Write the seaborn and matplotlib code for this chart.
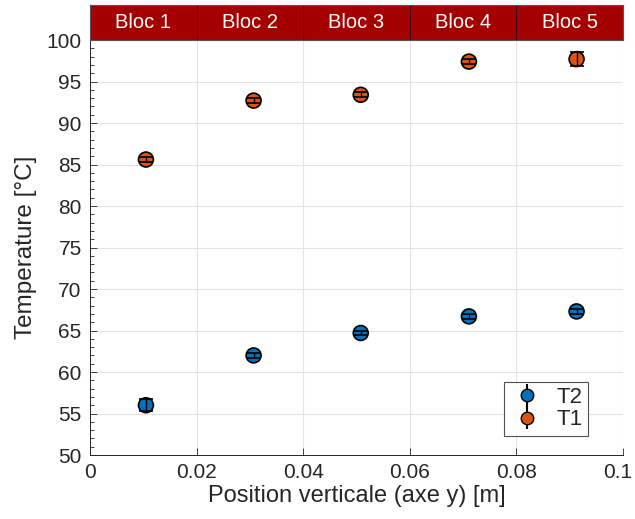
import numpy as np
import pandas as pd
import matplotlib
matplotlib.use("Agg")
import matplotlib.pyplot as plt
import matplotlib.transforms as mtransforms
import seaborn as sns

# Data
positions = [0.0105, 0.0307, 0.0508, 0.0711, 0.0913]
t1_values = [85.6, 92.7, 93.4, 97.4, 97.7]
t1_errors = [0.3, 0.3, 0.3, 0.3, 0.8]
t2_values = [56.0, 62.0, 64.7, 66.7, 67.3]
t2_errors = [0.7, 0.3, 0.3, 0.3, 0.3]
bloc_labels = ["Bloc 1", "Bloc 2", "Bloc 3", "Bloc 4", "Bloc 5"]
bloc_edges = [0.0, 0.02, 0.04, 0.06, 0.08, 0.1]

blue = "#0072BD"
orange = "#D95319"
dark = "#262626"

sns.set_style("ticks")
plt.rcParams["font.family"] = ["Liberation Sans", "DejaVu Sans"]
plt.rcParams["text.color"] = dark
plt.rcParams["axes.labelcolor"] = dark
plt.rcParams["xtick.color"] = dark
plt.rcParams["ytick.color"] = dark

df = pd.DataFrame({
    "x": positions * 2,
    "y": t2_values + t1_values,
    "err": t2_errors + t1_errors,
    "serie": ["T2"] * 5 + ["T1"] * 5,
})

fig = plt.figure(figsize=(6.35, 5.19), dpi=100)
ax = fig.add_axes([0.1417, 0.1233, 0.8393, 0.7996])

sns.scatterplot(data=df, x="x", y="y", hue="serie", palette={"T2": blue, "T1": orange},
                s=115, edgecolor="black", linewidth=1.2, ax=ax, zorder=3, legend=False)

for name in ["T2", "T1"]:
    sub = df[df["serie"] == name]
    ax.errorbar(sub["x"], sub["y"], yerr=sub["err"], fmt="none", ecolor="black",
                elinewidth=1.0, capsize=5, capthick=1.2, zorder=4)

# legend handles
for lab, col in [("T2", blue), ("T1", orange)]:
    ax.errorbar([], [], yerr=[], fmt="o", color=col, mec="black", ms=9, ecolor="black",
                capsize=3, label=lab)
leg = ax.legend(loc="lower right", bbox_to_anchor=(0.934, 0.046), borderaxespad=0,
                fontsize=16, frameon=True, fancybox=False, edgecolor=dark,
                handletextpad=0.5, borderpad=0.25, labelspacing=0.05, handlelength=1.6)
leg.get_frame().set_linewidth(0.8)

ax.set_xlim(0, 0.1)
ax.set_ylim(50, 100)
ax.set_xticks(np.arange(0, 0.101, 0.02))
ax.set_xticklabels(["0", "0.02", "0.04", "0.06", "0.08", "0.1"])
ax.set_yticks(np.arange(50, 101, 5))
ax.set_yticks(np.arange(50, 101, 1), minor=True)
ax.tick_params(axis="both", direction="in", labelsize=15, length=5, width=0.6, pad=6)
ax.tick_params(axis="y", which="minor", direction="in", length=3, width=0.6)
ax.grid(True, which="major", color="#e3e3e3", linewidth=0.8)
ax.set_axisbelow(True)
sns.despine(ax=ax)
for s in ["left", "bottom"]:
    ax.spines[s].set_color(dark)
    ax.spines[s].set_linewidth(0.7)
ax.set_xlabel("Position verticale (axe y) [m]", fontsize=17, labelpad=2)
ax.set_ylabel("Temperature [°C]", fontsize=17.5, labelpad=7)

# keep the last x tick label inside the figure
last = ax.get_xticklabels()[-1]
last.set_transform(last.get_transform() + mtransforms.ScaledTranslation(-4 / 72, 0, fig.dpi_scale_trans))

# header band with bloc names
band = fig.add_axes([0.1417, 0.9229, 0.8393, 0.0674])
band.set_xlim(0, 0.1)
band.set_ylim(0, 1)
for i, lab in enumerate(bloc_labels):
    band.axvspan(bloc_edges[i], bloc_edges[i + 1], color="#A50000", zorder=1)
    band.text((bloc_edges[i] + bloc_edges[i + 1]) / 2, 0.5, lab, color="white",
              ha="center", va="center", fontsize=14.5)
for e in bloc_edges[1:-1]:
    band.axvline(e, color="#3a0000", linewidth=0.8, zorder=2)
band.set_xticks([])
band.set_yticks([])
for s in band.spines.values():
    s.set_color("#555555")
    s.set_linewidth(0.8)

fig.savefig("out.png", dpi=100)
